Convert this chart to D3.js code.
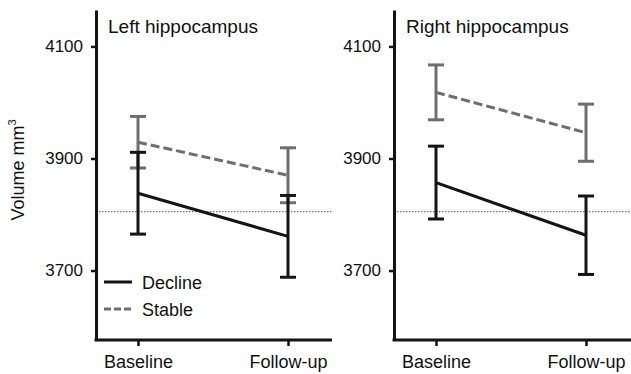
<!DOCTYPE html>
<html><head><meta charset="utf-8">
<script src="https://cdn.jsdelivr.net/npm/d3@7"></script>
<style>body{margin:0;background:#fff}svg{display:block}text{font-family:"Liberation Sans",Arial,sans-serif;fill:#111}</style>
</head><body>
<svg id="c" width="631" height="374"></svg>
<script>
const timepoints = ["Baseline", "Follow-up"];
const panels = ["Left hippocampus", "Right hippocampus"];
const yTicks = [3700, 3900, 4100];
const referenceLine = 3805;
// mean and error (half-width) per panel, per timepoint
const declineMean = [[3838, 3761], [3857, 3763]];
const declineErr  = [[73, 73], [65, 70]];
const stableMean  = [[3929, 3870], [4018, 3946]];
const stableErr   = [[46, 49], [49, 51]];
const legendLabels = ["Decline", "Stable"];

const svg = d3.select("#c");
const y = d3.scaleLinear().domain([3576, 4165]).range([340, 10]);
const panelX = [96, 394];
const panelW = [236, 237];
const black = "#141414", grey = "#6e6e6e";

panels.forEach((title, p) => {
  const x0 = panelX[p];
  const g = svg.append("g");
  const x = d3.scalePoint().domain(timepoints).range([x0 + 42, x0 + 192]);

  // reference dotted line
  g.append("line").attr("x1", x0).attr("x2", x0 + panelW[p])
    .attr("y1", y(referenceLine)).attr("y2", y(referenceLine))
    .attr("stroke", "#777").attr("stroke-width", 1.2).attr("stroke-dasharray", "1.5,1.5");

  const series = [
    {mean: stableMean[p], err: stableErr[p], color: grey, dash: "9,4"},
    {mean: declineMean[p], err: declineErr[p], color: black, dash: null}
  ];
  series.forEach(s => {
    const pts = timepoints.map((t, i) => ({t, m: s.mean[i], e: s.err[i]}));
    const eb = g.append("g").attr("stroke", s.color).attr("stroke-width", 3).attr("fill", "none");
    pts.forEach(d => {
      const cx = x(d.t);
      eb.append("line").attr("x1", cx).attr("x2", cx).attr("y1", y(d.m - d.e)).attr("y2", y(d.m + d.e));
      eb.append("line").attr("x1", cx - 8).attr("x2", cx + 8).attr("y1", y(d.m + d.e)).attr("y2", y(d.m + d.e));
      eb.append("line").attr("x1", cx - 8).attr("x2", cx + 8).attr("y1", y(d.m - d.e)).attr("y2", y(d.m - d.e));
    });
    g.append("path").datum(pts)
      .attr("d", d3.line().x(d => x(d.t)).y(d => y(d.m)))
      .attr("fill", "none").attr("stroke", s.color).attr("stroke-width", 3)
      .attr("stroke-dasharray", s.dash);
  });

  // y axis
  const ya = g.append("g").attr("transform", `translate(${x0},0)`)
    .call(d3.axisLeft(y).tickValues(yTicks).tickFormat(d3.format("d")).tickSize(5).tickSizeOuter(0).tickPadding(8));
  ya.select(".domain").attr("stroke", black).attr("stroke-width", 3);
  ya.selectAll(".tick line").attr("stroke", black).attr("stroke-width", 2.5);
  ya.selectAll(".tick text").style("font-size", "17px").attr("fill", "#111");

  // x axis
  g.append("line").attr("x1", x0 - 1.5).attr("x2", x0 + panelW[p]).attr("y1", 340).attr("y2", 340)
    .attr("stroke", black).attr("stroke-width", 3);
  const xa = g.append("g").attr("transform", "translate(0,340)")
    .call(d3.axisBottom(x).tickSize(6).tickPadding(9));
  xa.select(".domain").remove();
  xa.selectAll(".tick line").attr("stroke", black).attr("stroke-width", 2.5);
  xa.selectAll(".tick text").style("font-size", "18px").attr("fill", "#111");

  g.append("text").attr("x", x0 + 12).attr("y", 33).style("font-size", "19px").text(title);
});

// legend
const lg = svg.append("g");
[[black, null], [grey, "7,3"]].forEach((c, i) => {
  const yy = 282 + i * 27;
  lg.append("line").attr("x1", 104).attr("x2", 132).attr("y1", yy).attr("y2", yy)
    .attr("stroke", c[0]).attr("stroke-width", 3).attr("stroke-dasharray", c[1]);
  lg.append("text").attr("x", 142).attr("y", yy + 6.5).style("font-size", "18px").text(legendLabels[i]);
});

// y label
const yl = svg.append("text").attr("transform", "translate(24,170) rotate(-90)")
  .attr("text-anchor", "middle").style("font-size", "18px");
yl.append("tspan").text("Volume mm");
yl.append("tspan").attr("dy", -8).style("font-size", "11px").text("3");
</script>
</body></html>
